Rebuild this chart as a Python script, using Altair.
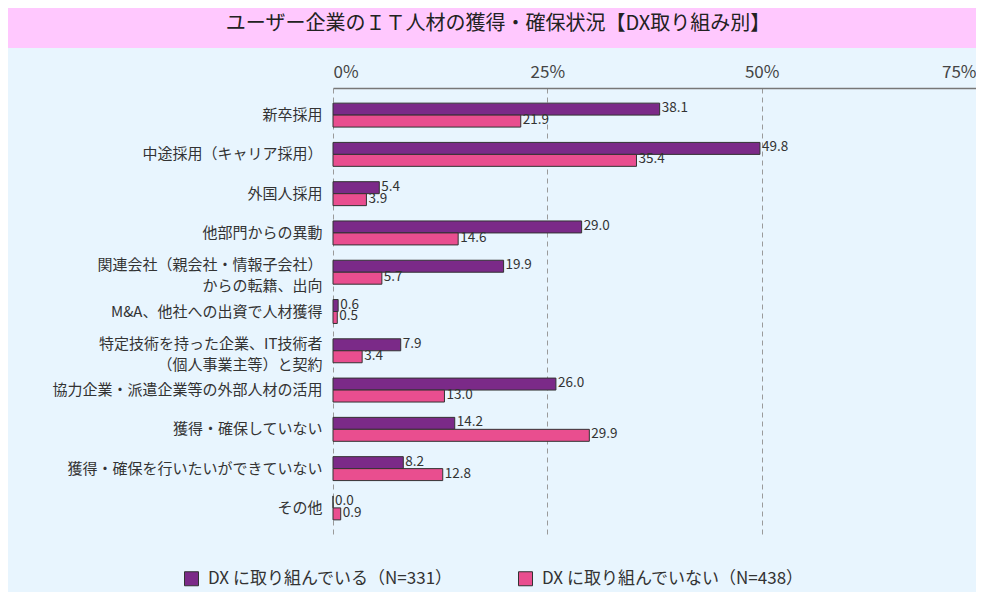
import altair as alt
import pandas as pd

title_text = "ユーザー企業のＩＴ人材の獲得・確保状況【DX取り組み別】"

categories = [
    "新卒採用",
    "中途採用（キャリア採用）",
    "外国人採用",
    "他部門からの異動",
    "関連会社（親会社・情報子会社）\nからの転籍、出向",
    "M&A、他社への出資で人材獲得",
    "特定技術を持った企業、IT技術者\n（個人事業主等）と契約",
    "協力企業・派遣企業等の外部人材の活用",
    "獲得・確保していない",
    "獲得・確保を行いたいができていない",
    "その他",
]
series = ["DX に取り組んでいる（N=331）", "DX に取り組んでいない（N=438）"]
dx_yes = [38.1, 49.8, 5.4, 29.0, 19.9, 0.6, 7.9, 26.0, 14.2, 8.2, 0.0]
dx_no = [21.9, 35.4, 3.9, 14.6, 5.7, 0.5, 3.4, 13.0, 29.9, 12.8, 0.9]
colors = ["#7B2A88", "#E94E8F"]
x_ticks = [0, 25, 50, 75]

rows = []
for c, a, b in zip(categories, dx_yes, dx_no):
    rows.append({"cat": c, "series": series[0], "value": a})
    rows.append({"cat": c, "series": series[1], "value": b})
df = pd.DataFrame(rows)

FONT = "Noto Sans CJK JP"
W, H = 643, 447

y_enc = alt.Y(
    "cat:N",
    sort=categories,
    scale=alt.Scale(paddingInner=0, paddingOuter=0.19),
    axis=alt.Axis(
        title=None, domain=False, ticks=False, labelPadding=11,
        labelFontSize=15, labelLimit=0, labelColor="#333",
        labelLineHeight=21, labelFont=FONT,
        labelExpr="split(datum.label, '\\n')",
        labelOffset={"condition": {"test": "indexof(datum.value, '\\n') >= 0", "value": -7},
                     "value": 0},
    ),
)
yoff = alt.YOffset("series:N", sort=series,
                   scale=alt.Scale(paddingOuter=0.64, paddingInner=0))
x_enc = alt.X(
    "value:Q",
    scale=alt.Scale(domain=[0, 75], nice=False),
    axis=alt.Axis(
        orient="top", title=None, values=x_ticks, labelExpr="datum.value + '%'",
        grid=True, gridDash=[5, 4], gridColor="#9a9a9a", gridWidth=1,
        domainColor="#777", domainWidth=1.5, ticks=False, labelPadding=7,
        labelFontSize=17, labelColor="#444", labelFlush=True, labelFont=FONT,
    ),
)

bars = alt.Chart(df).mark_bar(stroke="#333", strokeWidth=1).encode(
    y=y_enc, yOffset=yoff, x=x_enc,
    color=alt.Color(
        "series:N", sort=series,
        scale=alt.Scale(domain=series, range=colors),
        legend=alt.Legend(
            title=None, orient="none", direction="horizontal",
            legendX=-150, legendY=482, symbolType="square", symbolSize=196,
            symbolStrokeColor="#333", symbolStrokeWidth=1, labelFontSize=17,
            labelColor="#333", labelFont=FONT, labelOffset=8,
            columnPadding=63, padding=0, labelLimit=0,
        ),
    ),
)

labels = alt.Chart(df).mark_text(
    align="left", baseline="middle", dx=2, dy=-1, fontSize=13.5, color="#333", font=FONT
).encode(y=alt.Y("cat:N", sort=categories), yOffset=yoff, x="value:Q",
         text=alt.Text("value:Q", format=".1f"))

band = alt.Chart(pd.DataFrame({"t": [title_text]})).mark_rect(color="#FFC8FE").encode(
    x=alt.value(-325), x2=alt.value(W), y=alt.value(-80), y2=alt.value(-40)
)
title = alt.Chart(pd.DataFrame({"t": [title_text]})).mark_text(
    fontSize=20, font=FONT, color="#222", align="center", baseline="middle"
).encode(x=alt.value(165), y=alt.value(-64), text="t:N")

chart = alt.layer(band, title, bars, labels).properties(
    width=W, height=H,
    autosize=alt.AutoSizeParams(type="none"),
    padding={"left": 325, "top": 80, "right": 0, "bottom": 57},
    background="#E8F5FE",
).configure_view(stroke=None)

chart.save("out.html", embed_options={"renderer": "svg", "actions": False})
